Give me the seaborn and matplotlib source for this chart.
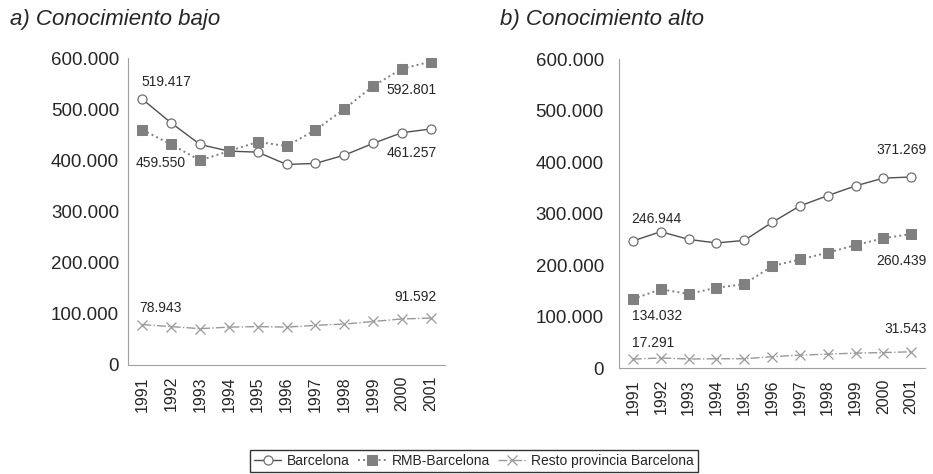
import matplotlib
matplotlib.use("Agg")
import matplotlib.pyplot as plt
import matplotlib.ticker as mticker
import numpy as np
import pandas as pd
import seaborn as sns

years = ["1991", "1992", "1993", "1994", "1995", "1996", "1997", "1998", "1999", "2000", "2001"]

# a) Conocimiento bajo
bcn_bajo = [519417, 473000, 431000, 418000, 416000, 392000, 394000, 410000, 433000, 454000, 461257]
rmb_bajo = [459550, 431000, 400000, 418000, 436000, 428000, 459000, 500000, 545000, 579000, 592801]
resto_bajo = [78943, 75000, 71000, 74000, 75000, 74000, 77500, 80000, 85000, 90000, 91592]

# b) Conocimiento alto
bcn_alto = [246944, 265000, 250000, 243000, 248000, 283000, 315000, 335000, 354000, 369000, 371269]
rmb_alto = [134032, 153000, 144000, 156000, 163000, 198000, 211000, 224000, 239000, 252000, 260439]
resto_alto = [17291, 19500, 17500, 18000, 18000, 22000, 25000, 27000, 29000, 30000, 31543]

series_names = ["Barcelona", "RMB-Barcelona", "Resto provincia Barcelona"]
titles = ["a) Conocimiento bajo", "b) Conocimiento alto"]

sns.set_style("white")
plt.rcParams["font.family"] = ["Liberation Sans", "DejaVu Sans"]

estilos = {
    "Barcelona": dict(color="#505050", linestyle="-", linewidth=1.0, marker="o",
                      markersize=6.5, markerfacecolor="white", markeredgecolor="#707070",
                      markeredgewidth=0.9),
    "RMB-Barcelona": dict(color="#808080", linestyle=":", linewidth=1.4, marker="s",
                          markersize=6.5, markerfacecolor="#808080", markeredgecolor="#808080"),
    "Resto provincia Barcelona": dict(color="#999999", linestyle="-.", linewidth=1.0, marker="x",
                                      markersize=7, markeredgewidth=0.9,
                                      markeredgecolor="#999999"),
}

def miles(v, pos):
    return f"{int(v):,}".replace(",", ".")

fig = plt.figure(figsize=(9.33, 4.74), dpi=100)
ax1 = fig.add_axes([0.1372, 0.2300, 0.3398, 0.6476])
ax2 = fig.add_axes([0.6635, 0.2236, 0.3280, 0.6513])

datos = [
    (ax1, [bcn_bajo, rmb_bajo, resto_bajo], 1.5),
    (ax2, [bcn_alto, rmb_alto, resto_alto], 6),
]

idx = np.arange(len(years))
for ax, vals, ypad in datos:
    for nombre, v in zip(series_names, vals):
        df = pd.DataFrame({"x": idx, "y": v})
        sns.lineplot(data=df, x="x", y="y", ax=ax, label=nombre, **estilos[nombre])
    ax.get_legend().remove()
    ax.set_xlim(-0.5, 10.5)
    ax.set_ylim(0, 600000)
    ax.set_yticks(np.arange(0, 600001, 100000))
    ax.yaxis.set_major_formatter(mticker.FuncFormatter(miles))
    ax.set_xticks(idx)
    ax.set_xticklabels(years, rotation=90, fontsize=11.5)
    ax.set_xticks(np.arange(-0.5, 11, 1), minor=True)
    ax.tick_params(axis="x", which="major", length=0, pad=8)
    ax.tick_params(axis="x", which="minor", direction="in", length=5, color="#a0a0a0")
    ax.tick_params(axis="y", direction="out", length=5, color="#a0a0a0", labelsize=13.5, pad=ypad)
    ax.set_xlabel("")
    ax.set_ylabel("")
    for s in ["top", "right"]:
        ax.spines[s].set_visible(False)
    for s in ["left", "bottom"]:
        ax.spines[s].set_color("#a0a0a0")
        ax.spines[s].set_linewidth(0.8)

# etiquetas de valores
fs = 10
ax1.text(-0.05, 553000, "519.417", fontsize=fs, ha="left", va="center")
ax1.text(-0.25, 395000, "459.550", fontsize=fs, ha="left", va="center")
ax1.text(-0.1, 111000, "78.943", fontsize=fs, ha="left", va="center")
ax1.text(10.2, 537000, "592.801", fontsize=fs, ha="right", va="center")
ax1.text(10.2, 414000, "461.257", fontsize=fs, ha="right", va="center")
ax1.text(10.2, 133000, "91.592", fontsize=fs, ha="right", va="center")

ax2.text(-0.05, 290000, "246.944", fontsize=fs, ha="left", va="center")
ax2.text(-0.05, 101000, "134.032", fontsize=fs, ha="left", va="center")
ax2.text(-0.05, 49000, "17.291", fontsize=fs, ha="left", va="center")
ax2.text(10.55, 424000, "371.269", fontsize=fs, ha="right", va="center")
ax2.text(10.55, 208000, "260.439", fontsize=fs, ha="right", va="center")
ax2.text(10.55, 76000, "31.543", fontsize=fs, ha="right", va="center")

fig.text(10 / 933, 1 - 20 / 474, titles[0], fontsize=16, style="italic", ha="left", va="center")
fig.text(500 / 933, 1 - 20 / 474, titles[1], fontsize=16, style="italic", ha="left", va="center")

handles = ax1.get_lines()[:3]
leg = fig.legend(handles, series_names, loc="lower center", bbox_to_anchor=(0.508, 0.004),
                 ncol=3, frameon=True, fancybox=False, fontsize=10, handlelength=2.0,
                 handletextpad=0.4, columnspacing=0.6, borderpad=0.3, borderaxespad=0)
leg.get_frame().set_edgecolor("black")
leg.get_frame().set_linewidth(1.0)

fig.savefig("out.png", dpi=100)
